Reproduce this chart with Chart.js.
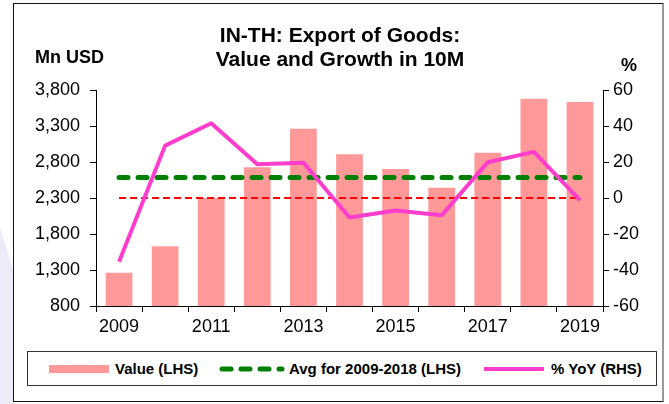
<!DOCTYPE html>
<html lang="en">
<head>
    <meta charset="UTF-8">
    <title>IN-TH: Export of Goods</title>
    <script src="https://cdn.jsdelivr.net/npm/chart.js"></script>
    <style>
        body {
            margin: 0;
            padding: 0;
            width: 669px;
            height: 404px;
            background: #fff;
            position: relative;
            overflow: hidden;
            font-family: "Liberation Sans", Arial, sans-serif;
        }

        /* faint lavender slide shape peeking out on the left */
        .side-shape {
            position: absolute;
            left: 0;
            top: 0;
            width: 14px;
            height: 404px;
            background: #ecebf7;
            clip-path: polygon(0 228px, 14px 272px, 14px 404px, 0 404px);
        }

        .frame {
            position: absolute;
            left: 13px;
            top: 3px;
            width: 648px;
            height: 397px;
            border: 1px solid #111;
            border-right: 2px solid #999;
            background: #fff;
        }

        #chart {
            position: absolute;
            left: 0;
            top: 0;
        }

        .title {
            position: absolute;
            left: 190px;
            width: 300px;
            text-align: center;
            font-weight: bold;
            font-size: 21px;
            line-height: 24px;
            top: 23px;
            color: #000;
        }

        .unit {
            position: absolute;
            font-weight: bold;
            font-size: 18px;
            color: #000;
        }

        .legend {
            position: absolute;
            left: 27px;
            top: 351px;
            width: 628px;
            height: 33px;
            border: 1px solid #333;
            background: #fff;
        }

        .legend span {
            position: absolute;
            top: 8px;
            font-size: 15px;
            font-weight: bold;
            color: #000;
            white-space: nowrap;
        }

        .legend svg {
            position: absolute;
            top: 0;
            left: 0;
        }
    </style>
</head>
<body>
    <div class="side-shape"></div>
    <div class="frame"></div>
    <canvas id="chart" width="669" height="404"></canvas>

    <div class="title">IN-TH: Export of Goods:<br>Value and Growth in 10M</div>
    <div class="unit" style="left:35px; top:47px;">Mn USD</div>
    <div class="unit" style="left:621px; top:55px;">%</div>

    <div class="legend">
        <svg width="628" height="33">
            <rect x="21" y="13" width="60" height="8" fill="#ff9999"></rect>
            <line x1="194" y1="17" x2="254" y2="17" stroke="#008000" stroke-width="5"
                  stroke-dasharray="9 10" stroke-linecap="round"></line>
            <line x1="456" y1="17" x2="516" y2="17" stroke="#ff3dcc" stroke-width="4"></line>
        </svg>
        <span style="left:87px;">Value (LHS)</span>
        <span style="left:261px;">Avg for 2009-2018 (LHS)</span>
        <span style="left:523px;">% YoY (RHS)</span>
    </div>

    <script>
        const years = ['2009', '2010', '2011', '2012', '2013', '2014', '2015', '2016', '2017', '2018', '2019'];
        // export value in Mn USD, Jan-Oct of each year
        const exportValue = [1262, 1629, 2300, 2726, 3263, 2907, 2703, 2443, 2929, 3679, 3633];
        // % change over same period of previous year
        const yoyGrowth = [-35.4, 29.1, 41.5, 18.7, 19.6, -10.8, -7.0, -9.6, 19.9, 25.6, -1.2];
        // 2009-2018 average, held flat across all years
        const avgValue = [2585, 2585, 2585, 2585, 2585, 2585, 2585, 2585, 2585, 2585, 2585];
        // zero growth reference on the right axis
        const zeroLine = [0, 0, 0, 0, 0, 0, 0, 0, 0, 0, 0];

        const leftMin = 800, leftMax = 3800, leftStep = 500;
        const rightMin = -60, rightMax = 60, rightStep = 20;

        const tickFont = { family: 'Liberation Sans', size: 18 };

        const ctx = document.getElementById('chart').getContext('2d');
        new Chart(ctx, {
            type: 'bar',
            data: {
                labels: years,
                datasets: [
                    {
                        type: 'line',
                        label: '% YoY (RHS)',
                        data: yoyGrowth,
                        yAxisID: 'y1',
                        borderColor: '#ff3dcc',
                        borderWidth: 4,
                        borderJoinStyle: 'round',
                        pointRadius: 0,
                        tension: 0,
                        order: 0
                    },
                    {
                        type: 'line',
                        label: 'Avg for 2009-2018 (LHS)',
                        data: avgValue,
                        yAxisID: 'y',
                        borderColor: '#008000',
                        borderWidth: 5,
                        borderDash: [9, 10],
                        borderCapStyle: 'round',
                        pointRadius: 0,
                        order: 1
                    },
                    {
                        type: 'line',
                        label: 'zero',
                        data: zeroLine,
                        yAxisID: 'y1',
                        borderColor: '#ff0000',
                        borderWidth: 2,
                        borderDash: [7, 4],
                        pointRadius: 0,
                        order: 2
                    },
                    {
                        label: 'Value (LHS)',
                        data: exportValue,
                        yAxisID: 'y',
                        backgroundColor: '#ff9999',
                        barPercentage: 0.58,
                        categoryPercentage: 1.0,
                        order: 3
                    }
                ]
            },
            options: {
                responsive: false,
                animation: false,
                layout: {
                    padding: { top: 90, left: 0, right: 0, bottom: 68 }
                },
                plugins: {
                    legend: { display: false },
                    title: { display: false },
                    tooltip: { enabled: false }
                },
                scales: {
                    x: {
                        offset: true,
                        grid: {
                            offset: true,
                            drawOnChartArea: false,
                            drawTicks: true,
                            tickLength: 6,
                            color: '#000'
                        },
                        border: { color: '#000', width: 1 },
                        ticks: {
                            autoSkip: false,
                            maxRotation: 0,
                            padding: 4,
                            color: '#000',
                            font: tickFont,
                            callback: function (value, index) {
                                return index % 2 === 0 ? years[index] : '';
                            }
                        },
                        afterFit: function (scale) { scale.height = 30; }
                    },
                    y: {
                        position: 'left',
                        min: leftMin,
                        max: leftMax,
                        grid: {
                            drawOnChartArea: false,
                            drawTicks: true,
                            tickLength: 6,
                            color: '#000'
                        },
                        border: { color: '#000', width: 1 },
                        ticks: {
                            stepSize: leftStep,
                            padding: 10,
                            color: '#000',
                            font: tickFont,
                            callback: function (value) {
                                return value.toLocaleString('en-US');
                            }
                        },
                        afterFit: function (scale) { scale.width = 96; }
                    },
                    y1: {
                        position: 'right',
                        min: rightMin,
                        max: rightMax,
                        grid: {
                            drawOnChartArea: false,
                            drawTicks: true,
                            tickLength: 6,
                            color: '#000'
                        },
                        border: { color: '#000', width: 1 },
                        ticks: {
                            stepSize: rightStep,
                            padding: 4,
                            color: '#000',
                            font: tickFont
                        },
                        afterFit: function (scale) { scale.width = 66; }
                    }
                }
            }
        });
    </script>
</body>
</html>
